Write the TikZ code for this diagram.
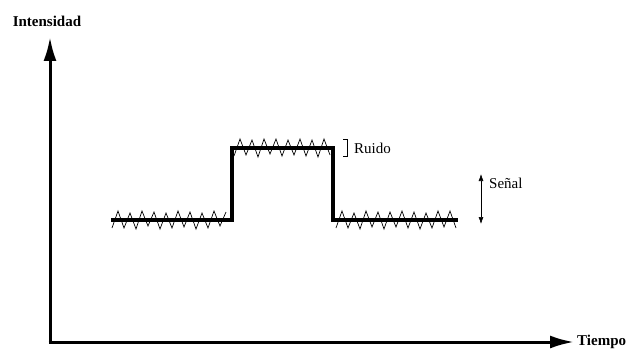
\documentclass[tikz,border=0pt]{standalone}
\usepackage{fontspec}
\setmainfont{Liberation Serif}
\usetikzlibrary{positioning, arrows.meta}

% zigzag noise: start x, level, list of offsets (6pt apart)
\newcommand{\ruido}[3]{%
  \draw[noise] (#1,{#2+8}) \foreach \o [count=\i] in {#3} { -- ({#1+6*\i},{#2+\o}) };
}

\begin{document}
\begin{tikzpicture}[
    x=1pt, y=-1pt,
    axis/.style={line width=3pt, -{Latex[length=24pt, width=13pt]}},
    signal/.style={line width=3.5pt, line join=miter},
    noise/.style={line width=0.7pt},
    label/.style={font=\fontsize{15}{17}\selectfont, inner sep=1pt},
    axlabel/.style={font=\bfseries\fontsize{15}{17}\selectfont, inner sep=1pt}
]
\useasboundingbox (0,0) rectangle (628,350);

% ============ AXES ============
\coordinate (origin) at (50,342);
\coordinate (ytop) at (50,37);
\coordinate (xend) at (574,342);
\draw[axis] ([yshift=1.5pt]origin) -- (ytop);
\draw[axis] ([xshift=-1.5pt]origin) -- (xend);
\node[axlabel, anchor=west] (xlab) at (576,342) {Tiempo};
\node[axlabel] (ylab) at (47,21) {Intensidad};

% ============ SIGNAL ============
\coordinate (a) at (111,220);
\coordinate (b) at (232,220);
\coordinate (c) at (232,148);
\coordinate (d) at (333,148);
\coordinate (e) at (333,220);
\coordinate (f) at (458,220);
\draw[signal] (a) -- (b) -- (c) -- (d) -- (e) -- (f);

% ============ NOISE ============
\ruido{112}{220}{-9, 8, -7, 9, -9, 6, -8, 9, -7, 8, -9, 7, -8, 9, -7, 8, -9, 6, -8}
\ruido{234}{148}{-9, 7, -8, 9, -9, 6, -9, 8, -8, 7, -9, 8, -8, 9, -9, 7}
\ruido{336}{220}{-9, 8, -7, 9, -9, 7, -8, 9, -8, 7, -9, 8, -8, 9, -7, 8, -9, 7, -9, 8}

% ============ RUIDO ============
\coordinate (r1) at (347,139);
\coordinate (r2) at (347,156);
\draw[line width=0.6pt] ([xshift=-4pt]r1) -- (r1) -- (r2) -- ([xshift=-4pt]r2);
\node[label, anchor=west] (ruido) at (353,148) {Ruido};

% ============ SEÑAL ============
\coordinate (s1) at (481,174);
\coordinate (s2) at (481,224);
\draw[line width=0.6pt, {Latex[length=7pt, width=5pt]}-{Latex[length=7pt, width=5pt]}] (s1) -- (s2);
\node[label, anchor=west] (senal) at (488,183) {Señal};

\end{tikzpicture}
\end{document}
